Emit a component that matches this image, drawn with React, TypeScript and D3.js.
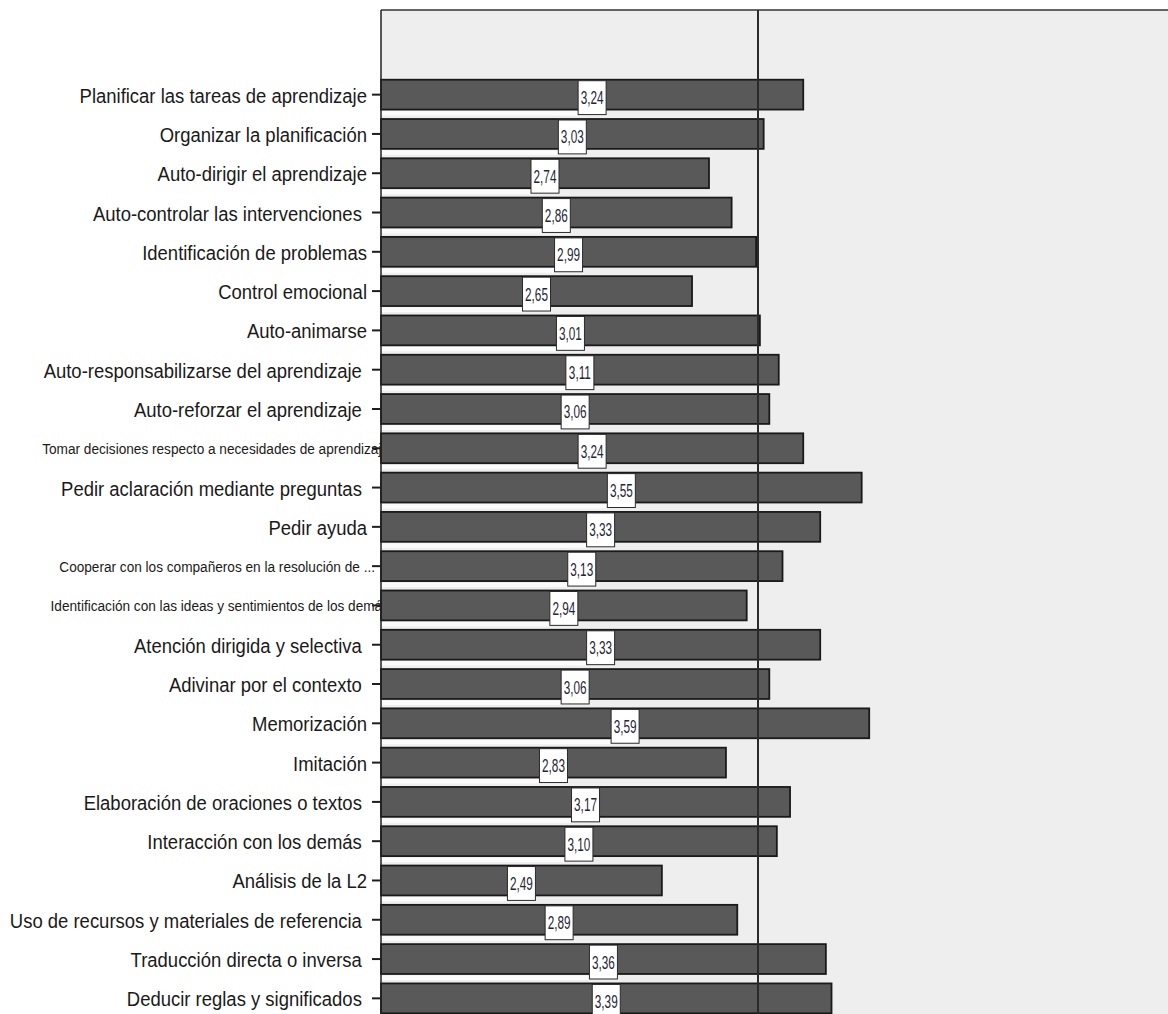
import * as React from "react";
import * as d3 from "d3";

// learning strategies (top to bottom) and their mean scores
const categories = [
  "Planificar las tareas de aprendizaje",
  "Organizar la planificación",
  "Auto-dirigir el aprendizaje",
  "Auto-controlar las intervenciones ",
  "Identificación de problemas",
  "Control emocional",
  "Auto-animarse",
  "Auto-responsabilizarse del aprendizaje ",
  "Auto-reforzar el aprendizaje ",
  "Tomar decisiones respecto a necesidades de aprendizaje",
  "Pedir aclaración mediante preguntas ",
  "Pedir ayuda",
  "Cooperar con los compañeros en la resolución de ...",
  "Identificación con las ideas y sentimientos de los demás",
  "Atención dirigida y selectiva ",
  "Adivinar por el contexto ",
  "Memorización",
  "Imitación",
  "Elaboración de oraciones o textos ",
  "Interacción con los demás ",
  "Análisis de la L2",
  "Uso de recursos y materiales de referencia ",
  "Traducción directa o inversa ",
  "Deducir reglas y significados ",
];

const means = [
  3.24, 3.03, 2.74, 2.86, 2.99, 2.65, 3.01, 3.11, 3.06, 3.24, 3.55, 3.33,
  3.13, 2.94, 3.33, 3.06, 3.59, 2.83, 3.17, 3.1, 2.49, 2.89, 3.36, 3.39,
];

const xDomain = [1, 5];
const referenceValue = 3;

const W = 1168;
const H = 1014;
const plotLeft = 381;
const plotTop = 10;
const FONT = "'Liberation Sans', Arial, sans-serif";

export default function App() {
  const x = d3.scaleLinear().domain(xDomain).range([plotLeft, 1135]);
  const y = d3
    .scaleBand<string>()
    .domain(categories)
    .range([75, 1018])
    .paddingInner(0.24)
    .paddingOuter(0.12);
  const bw = y.bandwidth();
  const fmt = (v: number) => d3.format(".2f")(v).replace(".", ",");
  const boxW = 28;

  return (
    <svg
      width={W}
      height={H}
      style={{ position: "absolute", left: 0, top: 0, background: "#fff" }}
    >
      <rect x={plotLeft} y={plotTop} width={W - plotLeft} height={H - plotTop} fill="#eeeeee" />

      {/* category labels */}
      {categories.map((c, i) => {
        const cy = (y(c) as number) + bw / 2;
        const long = c.length > 45;
        const truncated = c.endsWith("...");
        const endX = long ? (truncated ? 375 : 389) : 367;
        return (
          <text
            key={i}
            transform={`translate(${endX},${cy + (long ? 6 : 8)}) scale(${long ? 0.88 : 0.88},1)`}
            textAnchor="end"
            fontFamily={FONT}
            fontSize={long ? 15.5 : 21}
            fill="#1a1a1a"
            style={{ whiteSpace: "pre" }}
          >
            {c}
          </text>
        );
      })}

      {/* bars */}
      {categories.map((c, i) => {
        const y0 = y(c) as number;
        const x1 = x(means[i]);
        const mid = (plotLeft + x1) / 2;
        return (
          <g key={i}>
            <rect
              x={plotLeft}
              y={y0 + bw + 1.5}
              width={mid - boxW / 2 - plotLeft}
              height={4.5}
              fill="#fbfbfb"
            />
            <rect
              x={plotLeft}
              y={y0}
              width={x1 - plotLeft}
              height={bw}
              fill="#595959"
              stroke="#1a1a1a"
              strokeWidth={1.8}
            />
          </g>
        );
      })}

      {/* reference line */}
      <line
        x1={x(referenceValue)}
        x2={x(referenceValue)}
        y1={plotTop}
        y2={H}
        stroke="#2a2a2a"
        strokeWidth={2}
      />

      {/* value labels */}
      {categories.map((c, i) => {
        const y0 = y(c) as number;
        const mid = (plotLeft + x(means[i])) / 2;
        const boxH = bw + 4;
        return (
          <g key={i}>
            <rect
              x={mid - boxW / 2}
              y={y0 + 1}
              width={boxW}
              height={boxH}
              fill="#ffffff"
              stroke="#2a2a2a"
              strokeWidth={1}
            />
            <text
              transform={`translate(${mid},${y0 + 1 + boxH / 2 + 6.5}) scale(0.62,1)`}
              textAnchor="middle"
              fontFamily={FONT}
              fontSize={19}
              fill="#1f2638"
            >
              {fmt(means[i])}
            </text>
          </g>
        );
      })}

      {/* ticks */}
      {categories.map((c, i) => {
        const cy = (y(c) as number) + bw / 2;
        return (
          <line key={i} x1={372} x2={plotLeft} y1={cy} y2={cy} stroke="#1e1e1e" strokeWidth={2} />
        );
      })}

      {/* frame */}
      <line x1={plotLeft} x2={W} y1={plotTop} y2={plotTop} stroke="#333" strokeWidth={1.5} />
      <line x1={plotLeft} x2={plotLeft} y1={plotTop} y2={H} stroke="#222" strokeWidth={1.5} />
    </svg>
  );
}
